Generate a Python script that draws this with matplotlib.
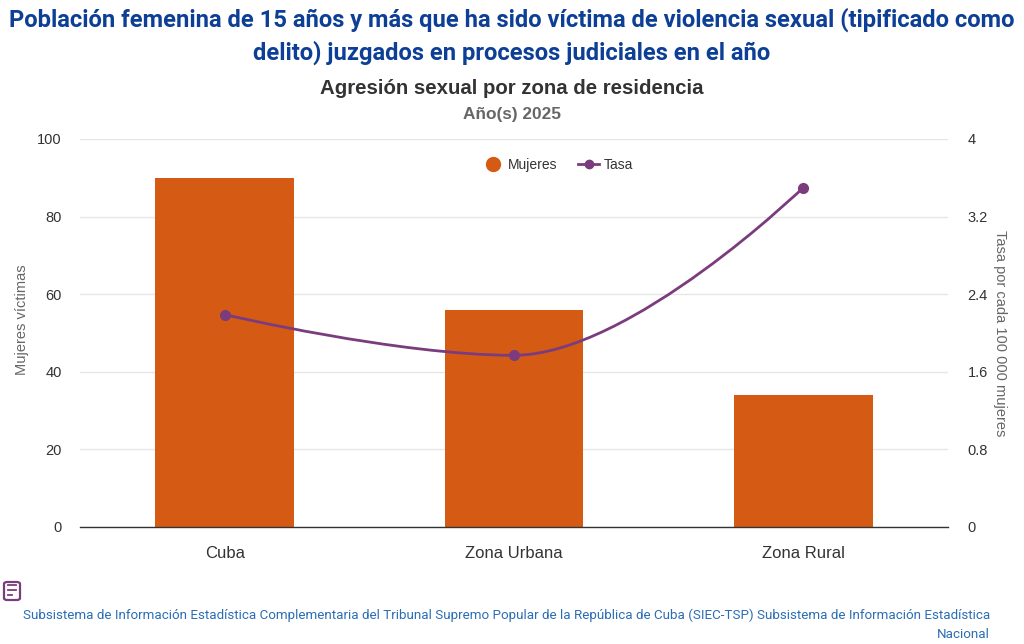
import matplotlib
matplotlib.use("Agg")
import matplotlib.pyplot as plt
from matplotlib.path import Path
from matplotlib.patches import PathPatch, FancyBboxPatch
from matplotlib.lines import Line2D
import numpy as np

categories = ["Cuba", "Zona Urbana", "Zona Rural"]
mujeres = [90, 56, 34]
tasa = [2.19, 1.77, 3.50]
left_ticks = [0, 20, 40, 60, 80, 100]
right_ticks = [0, 0.8, 1.6, 2.4, 3.2, 4]
right_labels = ["0", "0.8", "1.6", "2.4", "3.2", "4"]

title = "Población femenina de 15 años y más que ha sido víctima de violencia sexual (tipificado como\ndelito) juzgados en procesos judiciales en el año"
subtitle = "Agresión sexual por zona de residencia"
year_text = "Año(s) 2025"
footer = "Subsistema de Información Estadística Complementaria del Tribunal Supremo Popular de la República de Cuba (SIEC-TSP) Subsistema de Información Estadística\nNacional"

BAR = "#D55B15"
LINE = "#7B3C7E"
TXT = "#333333"
FONT = ["Liberation Sans", "DejaVu Sans"]
NARROW = ["Roboto", "DejaVu Sans"]

plt.rcParams['font.family'] = FONT

fig = plt.figure(figsize=(10.24, 6.44), dpi=100)
ax = fig.add_axes([80/1024, 1-527/644, 868/1024, 388/644])
ax2 = ax.twinx()

x = np.arange(len(categories))
ax.bar(x, mujeres, width=0.48, color=BAR, zorder=2)
ax.set_xlim(-0.5, len(categories) - 0.5)
ax.set_ylim(0, 100)
ax.set_yticks(left_ticks)
ax.set_yticklabels([str(t) for t in left_ticks])
ax.set_xticks(x)
ax.set_xticklabels(categories, fontsize=12, color=TXT)
ax.tick_params(axis='x', length=0, pad=14)
ax.tick_params(axis='y', length=0, pad=13, labelsize=10.5, labelcolor=TXT)
ax.grid(axis='y', color="#e6e6e6", linewidth=1, zorder=0)
ax.set_axisbelow(True)
for s in ["top", "right", "left"]:
    ax.spines[s].set_visible(False)
ax.spines["bottom"].set_color("#333333")
ax.spines["bottom"].set_linewidth(1)

ax2.set_ylim(0, 4)
ax2.set_yticks(right_ticks)
ax2.set_yticklabels(right_labels)
ax2.tick_params(axis='y', length=0, pad=14, labelsize=10.5, labelcolor=TXT)
for s in ["top", "right", "left", "bottom"]:
    ax2.spines[s].set_visible(False)

fig.text(22/1024, 1-320/644, "Mujeres víctimas", rotation=90, ha="center", va="center",
         fontsize=10.5, color="#666666")
fig.text(1000/1024, 1-333/644, "Tasa por cada 100 000 mujeres", rotation=270,
         ha="center", va="center", fontsize=10.5, color="#666666")

# Highcharts-style spline path built from the data points
sm = 1.5
den = sm + 1
px = list(map(float, x))
py = list(map(float, tasa))
n = len(px)
lc = [None] * n
rc = [None] * n
for i in range(1, n - 1):
    lx = (sm * px[i] + px[i-1]) / den
    ly = (sm * py[i] + py[i-1]) / den
    rx = (sm * px[i] + px[i+1]) / den
    ry = (sm * py[i] + py[i+1]) / den
    corr = (ry - ly) * (rx - px[i]) / (rx - lx) + py[i] - ry
    ly += corr
    ry += corr
    if ly > py[i-1] and ly > py[i]:
        ly = max(py[i-1], py[i]); ry = 2 * py[i] - ly
    elif ly < py[i-1] and ly < py[i]:
        ly = min(py[i-1], py[i]); ry = 2 * py[i] - ly
    if ry > py[i+1] and ry > py[i]:
        ry = max(py[i+1], py[i]); ly = 2 * py[i] - ry
    elif ry < py[i+1] and ry < py[i]:
        ry = min(py[i+1], py[i]); ly = 2 * py[i] - ry
    lc[i] = (lx, ly)
    rc[i] = (rx, ry)
verts = [(px[0], py[0])]
codes = [Path.MOVETO]
for i in range(1, n):
    c1 = rc[i-1] if rc[i-1] is not None else (px[i-1], py[i-1])
    c2 = lc[i] if lc[i] is not None else (px[i], py[i])
    verts += [c1, c2, (px[i], py[i])]
    codes += [Path.CURVE4] * 3
ax2.add_patch(PathPatch(Path(verts, codes), facecolor="none", edgecolor=LINE,
                        linewidth=2, zorder=3))
ax2.plot(x, tasa, linestyle="none", marker="o", markersize=7, color=LINE, zorder=4)

# legend
handles = [
    Line2D([], [], linestyle="none", marker="o", markersize=10, color=BAR),
    Line2D([], [], color=LINE, linewidth=2, marker="o", markersize=6),
]
leg = fig.legend(handles, ["Mujeres", "Tasa"], loc="center",
                 bbox_to_anchor=(558/1024, 1-165/644), ncol=2, frameon=False,
                 fontsize=10, handlelength=1.5, columnspacing=1.5, handletextpad=0.35,
                 labelcolor=TXT)

# titles
fig.text(0.5, 1-36/644, title, ha="center", va="center", fontsize=17.1,
         fontweight="bold", color="#0D3F96", family=NARROW, linespacing=1.45)
fig.text(512/1024, 1-88/644, subtitle, ha="center", va="center", fontsize=14.7,
         fontweight="bold", color=TXT)
fig.text(512/1024, 1-114/644, year_text, ha="center", va="center", fontsize=12.4,
         fontweight="bold", color="#666666")

# footer icon
icon = FancyBboxPatch((4/1024, 1-600/644), 16/1024, 18/644,
                      boxstyle="round,pad=0,rounding_size=0.003",
                      transform=fig.transFigure, facecolor="none",
                      edgecolor="#7B3C7E", linewidth=1.6)
fig.patches.append(icon)
for yy, x2 in [(585, 16), (590, 16), (595, 12)]:
    fig.lines.append(Line2D([7.5/1024, x2/1024], [1-yy/644, 1-yy/644],
                            transform=fig.transFigure, color="#7B3C7E", linewidth=1.3))

fig.text(990/1024, 1-625/644, footer, ha="right", va="center", fontsize=9.65,
         color="#2A6DB5", family=NARROW, linespacing=1.6, multialignment="right")

fig.savefig("out.png", dpi=100, facecolor="white")
